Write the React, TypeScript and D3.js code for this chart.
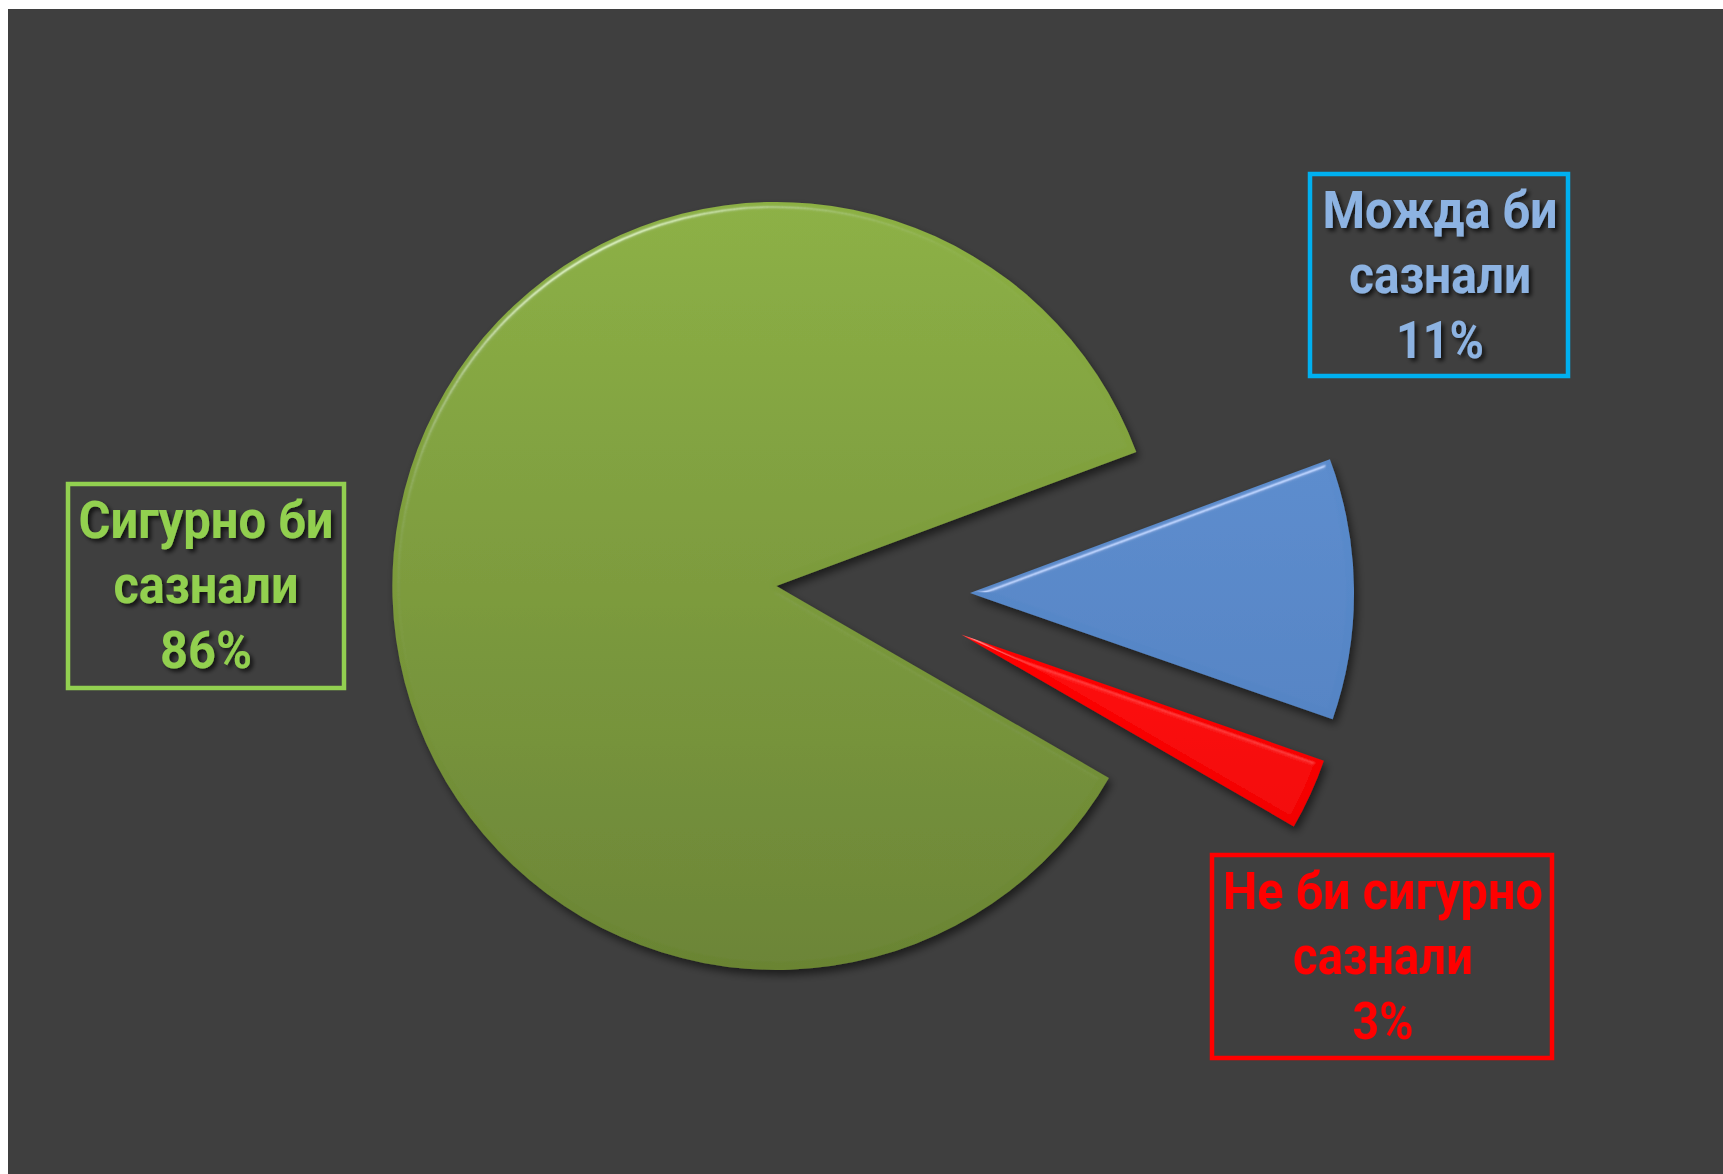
import React from "react";
import * as d3 from "d3";

// ---- data ----
const categories = ["Сигурно би сазнали", "Можда би сазнали", "Не би сигурно сазнали"];
const values = [86, 11, 3];
const labelLines = [
  ["Сигурно би", "сазнали"],
  ["Можда би", "сазнали"],
  ["Не би сигурно", "сазнали"],
];
const sliceTop = ["#8cb043", "#5b8ccd", "#ff0000"];
const sliceBottom = ["#6a8433", "#5484c4", "#f20000"];
const labelColors = ["#92d050", "#8db3e2", "#ff0000"];
const borderColors = ["#92d050", "#00b0f0", "#ff0000"];
const labelShadow = [true, true, false];

// ---- layout ----
const W = 1723;
const H = 1174;
const center = { x: 873, y: 594 };
const radius = 384;
const explode = 97;
const startDeg = 120;
const boxes = [
  { x: 68, y: 484, w: 276, h: 204, cx: 206, base: 538, widths: [255, 185, 92] },
  { x: 1310, y: 174, w: 258, h: 202, cx: 1440, base: 228, widths: [235, 182, 88] },
  { x: 1212, y: 855, w: 340, h: 203, cx: 1383, base: 909, widths: [320, 180, 61] },
];
const lineGap = 65;

export default function App() {
  const start = (startDeg * Math.PI) / 180;
  const pie = d3
    .pie<number>()
    .sort(null)
    .value((d) => d)
    .startAngle(start)
    .endAngle(start + 2 * Math.PI);
  const arcs = pie(values);
  const arcGen = d3.arc<d3.PieArcDatum<number>>().innerRadius(0).outerRadius(radius);

  return (
    <div style={{ position: "fixed", left: 0, top: 0, width: W, height: H }}>
      <svg width={W} height={H} style={{ display: "block" }}>
        <defs>
          {arcs.map((_, i) => (
            <linearGradient key={i} id={`g${i}`} x1="0" y1="0" x2="0" y2="1">
              <stop offset="0%" stopColor={sliceTop[i]} />
              <stop offset="100%" stopColor={sliceBottom[i]} />
            </linearGradient>
          ))}
          <filter id="bevel" x="-10%" y="-10%" width="125%" height="125%">
            <feGaussianBlur in="SourceAlpha" stdDeviation="3" result="blur" />
            <feSpecularLighting
              in="blur"
              surfaceScale="5"
              specularConstant="0.9"
              specularExponent="45"
              lightingColor="#ffffff"
              result="spec"
            >
              <feDistantLight azimuth="240" elevation="40" />
            </feSpecularLighting>
            <feComposite in="spec" in2="SourceAlpha" operator="in" result="specIn" />
            <feComposite
              in="SourceGraphic"
              in2="specIn"
              operator="arithmetic"
              k1="0"
              k2="1"
              k3="0.45"
              k4="0"
              result="lit"
            />
            <feGaussianBlur in="SourceAlpha" stdDeviation="4" result="sh" />
            <feOffset in="sh" dx="3" dy="5" result="sho" />
            <feFlood floodColor="#000000" floodOpacity="0.55" />
            <feComposite in2="sho" operator="in" result="shadow" />
            <feMerge>
              <feMergeNode in="shadow" />
              <feMergeNode in="lit" />
            </feMerge>
          </filter>
          <filter id="tshadow" x="-10%" y="-20%" width="130%" height="150%">
            <feDropShadow dx="3" dy="3" stdDeviation="2" floodColor="#000000" floodOpacity="0.7" />
          </filter>
        </defs>
        <rect x={0} y={0} width={W} height={H} fill="#ffffff" />
        <rect x={8} y={9} width={W - 8} height={H - 9} fill="#3f3f3f" />
        <g>
          {arcs.map((a, i) => {
            const mid = (a.startAngle + a.endAngle) / 2;
            const dx = Math.sin(mid) * explode;
            const dy = -Math.cos(mid) * explode;
            return (
              <path
                key={categories[i]}
                d={arcGen(a) || ""}
                transform={`translate(${center.x + dx},${center.y + dy})`}
                fill={`url(#g${i})`}
                filter="url(#bevel)"
              />
            );
          })}
        </g>
        {boxes.map((b, i) => {
          const lines = [...labelLines[i], `${values[i]}%`];
          return (
            <g key={i}>
              <rect
                x={b.x}
                y={b.y}
                width={b.w}
                height={b.h}
                fill="none"
                stroke={borderColors[i]}
                strokeWidth={4.5}
              />
              {lines.map((t, j) => (
                <text
                  key={j}
                  x={b.cx}
                  y={b.base + j * lineGap}
                  textAnchor="middle"
                  fill={labelColors[i]}
                  fontFamily="Roboto, 'Noto Sans', sans-serif"
                  fontWeight="bold"
                  fontSize={51}
                  textLength={b.widths[j]}
                  lengthAdjust="spacingAndGlyphs"
                  filter={labelShadow[i] ? "url(#tshadow)" : undefined}
                >
                  {t}
                </text>
              ))}
            </g>
          );
        })}
      </svg>
    </div>
  );
}
